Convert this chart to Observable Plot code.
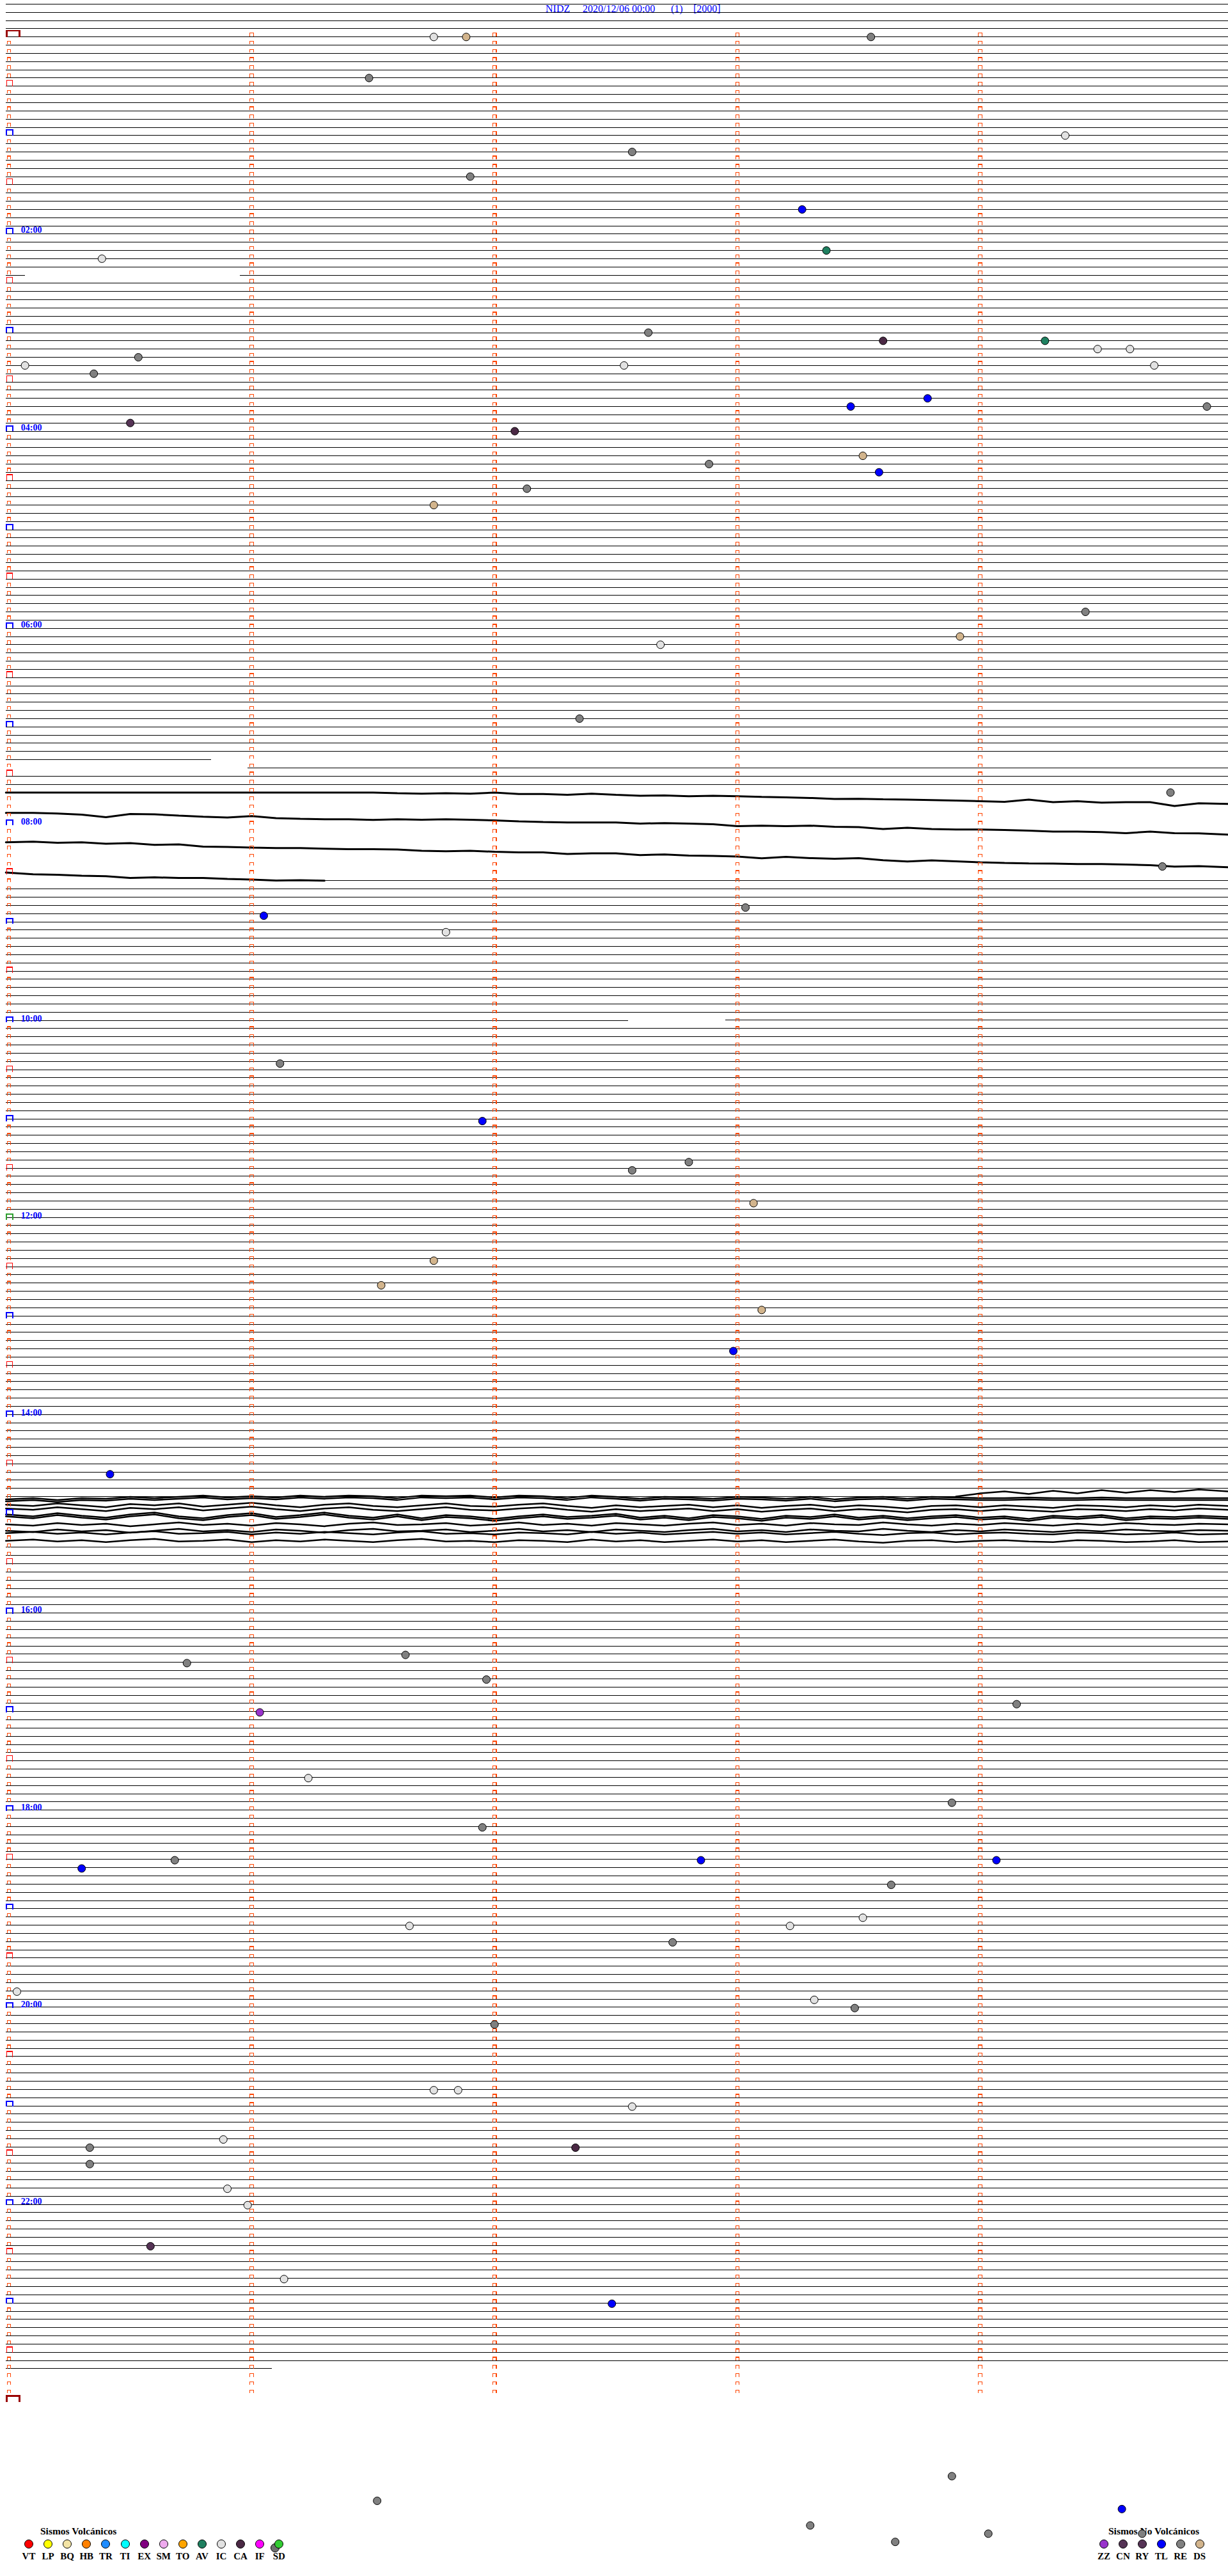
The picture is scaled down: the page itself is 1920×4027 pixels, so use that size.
<!DOCTYPE html>
<html><head><meta charset="utf-8">
<script src="https://cdn.jsdelivr.net/npm/d3@7"></script>
<script src="https://cdn.jsdelivr.net/npm/@observablehq/plot@0.6"></script>
<style>
body{margin:0;background:#fff;}
#wrap{position:relative;width:1920px;height:4027px;overflow:hidden;font-family:"Liberation Serif","Times New Roman",serif;}
#chart{position:absolute;left:0;top:0;z-index:2;}
#legend{position:absolute;left:0;top:0;width:1920px;height:4027px;z-index:1;}
.t{position:absolute;white-space:pre;line-height:1;}
.c{position:absolute;width:12px;height:12px;border:1px solid #000;border-radius:50%;}
</style></head><body>
<div id="wrap"><div id="legend"></div><div id="chart"></div></div>
<script>
// ---------------- DATA ----------------
const station = "NIDZ";
const startLabel = "2020/12/06 00:00";
const channelLabel = "(1)";
const gainLabel = "[2000]";
const hourLabels = ["02:00","04:00","06:00","08:00","10:00","12:00","14:00","16:00","18:00","20:00","22:00"];

// recorded data spans (start, end, DC offset in counts)
const recordSpans = [
  ["-00:20:00","02:25:04",0],
  ["02:25:57","07:20:50",0],
  ["07:25:59","07:40:00",0],
  ["08:36:18","10:02:33",-3.3],
  ["10:02:57","14:53:54",-3.5],
  ["15:20:00","23:41:05",-1.2]
];

// large-amplitude waveform samples (one sample every 6 s), counts
const waveStarts = ["07:40:00","07:45:00","07:50:00","07:55:00","14:53:54","14:55:00","15:00:00","15:05:00","15:10:00","15:15:00"];
const waveDC =     [0,0,0,0,-3.6,-3.6,-3.6,-3.6,-3.6,-3.6];
const waveEnvelope=[0,0,0,0,0,1.5,3,1.5,5,6];
const wave0740 = [0,0,0,0,0,0,0,0,0,0,0,0,0,0,0,0,1.0,1.7,1.0,1.7,0,2.3,2.3,3.4,1.7,3.4,5,4.4,5.7,5,5.7,6.7,7.4,8.4,10,9.7,10.4,11,11.7,12.4,13.4,14.4,11,15,13.4,15.7,15,15,21,16.7,17.7];
const wave0745 = [18.9,18.9,19.9,21.6,25.6,20.6,21.2,23.2,24.9,26.2,23.9,27.2,28.2,28.9,28.9,29.9,28.9,29.6,28.9,29.6,30.6,32.2,33.2,33.9,33.9,33.9,35.6,34.9,35.6,36.6,39.6,38.9,39.6,38.9,40.6,41.2,44.2,42.2,44.2,44.9,44.9,45.6,46.6,48.2,48.2,48.9,50.6,48.2,50.6,50.9,52.9];
const wave0750 = [52.1,51.1,52.8,52.1,54.4,53.4,56.1,55.4,58.8,59.4,60.4,61.1,61.1,62.1,62.8,62.8,63.4,65.4,66.1,65.4,66.8,67.8,67.8,70.4,69.4,69.4,72.1,71.1,72.8,73.4,74.4,77.1,74.8,76.8,77.8,76.8,80.1,82.1,80.4,81.8,83.4,84.4,85.1,85.4,86.1,86.1,86.8,87.8,90.1,89.4,91.1];
const wave0755 = [86.6,89.3,90,91.6,92.3,95,94,95,95,96.6,97.6,99,98.6,99.3];
const wave1453 = [0,-5,-8,-4,-9,-5,-10,-6,-10,-7,-11,-8];
const wave1455 = [-7,-9,-6,-9,-8,-11,-9,-11,-13,-10,-12,-10,-13,-11,-13,-12,-9,-13,-12,-13,-10,-13,-12,-9,-13,-11,-8,-11,-10,-8,-11,-10,-8,-11,-7,-10,-11,-8,-11,-10,-9,-9,-10,-9,-9,-10,-9,-9,-9,-9,-9];
const wave1500 = [-10,-8,-12,-9,-6,-11,-9,-12,-7,-10,-13,-9,-6,-10,-12,-8,-6,-9,-12,-8,-7,-10,-12,-8,-5,-9,-6,-8,-10,-6,-9,-5,-8,-10,-6,-9,-7,-4,-8,-9,-6,-9,-7,-5,-9,-8,-6,-9,-7,-10,-8];
const wave1505 = [-9,-6,-11,-7,-4,-9,-12,-6,-3,-8,-11,-5,-8,-12,-7,-4,-9,-3,-8,-6,-2,-6,-9,-5,-7,-10,-4,-7,-3,-8,-6,-2,-7,-5,-9,-4,-7,-3,-6,-8,-4,-6,-2,-7,-5,-8,-3,-6,-5,-7,-5];
const wave1510 = [-3,-1,-5,-2,-4,0,-3,-6,-2,-4,-1,-5,-3,0,-4,-6,-2,-3,-5,-1,-3,-6,-2,-4,-1,-5,-3,-1,-4,-6,-2,-4,-1,-5,-3,-2,-6,-3,-1,-4,-2,-5,-3,-1,-4,-2,-5,-3,-2,-4,-3];
const wave1515 = [-1,-3,0,-2,1,-2,-4,0,-1,-3,1,-2,0,-3,-1,1,-2,-4,0,-1,1,-2,-1,1,-3,0,-2,1,-1,-3,0,-2,1,-1,-3,0,2,-1,-2,1,-1,-2,0,1,-2,-1,1,0,-2,1,0];
const waveValues = [wave0740,wave0745,wave0750,wave0755,wave1453,wave1455,wave1500,wave1505,wave1510,wave1515];

// classified events
const eventTimes = ["00:01:45","00:01:53","00:03:33","00:26:29","01:04:21","01:12:34","01:26:54","01:48:16","02:13:22","02:15:23",
 "03:02:38","03:08:36","03:09:16","03:14:29","03:14:37","03:15:32","03:20:04","03:22:32","03:24:43","03:25:21",
 "03:43:47","03:48:28","03:49:56","03:55:30","04:02:05","04:18:31","04:22:53","04:28:35","04:37:08","04:46:45",
 "05:54:26","06:08:55","06:12:41","06:57:21","07:44:47","08:29:45","08:53:02","08:56:03","09:06:48","10:26:07",
 "11:01:57","11:27:48","11:32:34","11:53:04","12:26:45","12:41:32","12:58:06","13:22:59","14:35:25","16:26:38",
 "16:30:44","16:41:58","16:59:09","17:01:02","17:41:14","17:58:53","18:11:57","18:32:51","18:34:04","18:30:41",
 "18:35:18","18:48:38","19:08:31","19:11:39","19:13:13","19:22:44","19:50:02","19:58:19","20:03:29","20:12:00",
 "20:51:45","20:51:51","21:02:34","21:20:53","21:25:20","21:27:20","21:35:20","21:50:54","22:00:59","22:25:35",
 "22:46:08","23:02:29","24:48:53","25:01:31","25:09:35","25:18:18","25:24:02","25:24:40","25:28:39"];
const eventTypes = ["IC","DS","RE","RE","IC","RE","RE","TL","AV","IC",
 "RE","CA","AV","IC","IC","RE","IC","IC","IC","RE",
 "TL","TL","RE","CN","CA","DS","RE","TL","RE","DS",
 "RE","DS","IC","RE","RE","RE","RE","TL","IC","RE",
 "TL","RE","RE","DS","DS","DS","DS","TL","TL","RE",
 "RE","RE","RE","ZZ","IC","RE","RE","TL","TL","RE",
 "TL","RE","IC","IC","IC","RE","IC","IC","RE","RE",
 "IC","IC","IC","IC","RE","CA","RE","IC","IC","CN",
 "IC","TL","RE","RE","TL","RE","RE","RE","RE"];

const volcanicCodes  = ["VT","LP","BQ","HB","TR","TI","EX","SM","TO","AV","IC","CA","IF","SD"];
const volcanicColors = ["#ff0000","#ffff00","#f3e4a6","#ff8000","#1e8cff","#00ffff","#800080","#eeaaee","#ffa500","#1f8060","#e2e2e2","#4a2844","#ff00ff","#33cc33"];
const nonVolcanicCodes  = ["ZZ","CN","RY","TL","RE","DS"];
const nonVolcanicColors = ["#9933cc","#553355","#553355","#0000ff","#808080","#d2b48c"];

// ---------------- BUILD ----------------
const ROW = 300;            // seconds per helicorder line
const GAIN = 12.839;        // counts per line spacing
const toSec = s => { const neg = s.startsWith("-"); const [h,m,x] = s.replace("-","").split(":").map(Number); const v = h*3600+m*60+x; return neg ? -v : v; };
const xEnd = 5.022, xStart = -0.012;

const segs = [];
recordSpans.forEach(([a,b,dc]) => {
  const s = toSec(a), e = toSec(b);
  for (let r = Math.floor(s/ROW); r*ROW < e; r++) {
    const rs = r*ROW, t0 = Math.max(s, rs), t1 = Math.min(e, rs+ROW);
    if (t1 <= t0) continue;
    segs.push({row: r, x1: t0 === rs ? xStart : (t0-rs)/60, x2: t1 === rs+ROW ? xEnd : (t1-rs)/60, dc});
  }
});

const wavePts = [];
waveStarts.forEach((st, k) => {
  const s = toSec(st), row = Math.floor(s/ROW), m0 = (s - row*ROW)/60;
  const vals = waveValues[k], env = waveEnvelope[k];
  const sides = env > 0 ? [-1, 1] : [0];
  sides.forEach(sd => {
    vals.forEach((v, i) => {
      let m = m0 + i*0.1;
      if (i === 0 && m0 === 0) m = xStart;
      if (Math.abs(m - 5) < 1e-6) m = xEnd;
      wavePts.push({id: k + "_" + sd, grp: k < 4 ? "a" : "b", x: m, y: row + (waveDC[k] + v + sd*env)/GAIN});
    });
  });
});

const marks0 = [];
for (let r = 0; r <= 288; r++) {
  for (let m = 0; m <= 4; m++) {
    if (r === 288 && m > 0) continue;
    let kind = "small";
    if (m === 0) {
      if (r % 144 === 0 && r !== 144) kind = "darkred";
      else if (r === 144) kind = "green";
      else if (r % 12 === 0) kind = "blue";
      else if (r % 6 === 0) kind = "red";
    }
    marks0.push({row: r, x: m, kind});
  }
}
const openRect = (l, r, t, b) => ({draw(ctx){ ctx.moveTo(l,b); ctx.lineTo(l,t); ctx.lineTo(r,t); ctx.lineTo(r,b); }});
const markerStyle = {
  small:   {sym: openRect(-2.7,2.7,-6.3,-1.3), stroke:"#ff4500", sw:1.2},
  red:     {sym: openRect(-3.1,5.5,-9.3,0),   stroke:"#ff0000", sw:1.4},
  blue:    {sym: openRect(-3.4,6.6,-8.5,0),   stroke:"#0000ff", sw:2},
  green:   {sym: openRect(-3.4,6.6,-8.5,0),   stroke:"#2ea02e", sw:2},
  darkred: {sym: openRect(-3.4,16.8,-10,0),   stroke:"#990000", sw:2.4}
};

const events = eventTimes.map((t, i) => { const s = toSec(t); const row = Math.floor(s/ROW); return {row, x: (s - row*ROW)/60, type: eventTypes[i]}; });

const markerMarks = Object.entries(markerStyle).map(([k, st]) =>
  Plot.dot(marks0.filter(d => d.kind === k), {x: "x", y: "row", symbol: st.sym, stroke: st.stroke, fill: "none", strokeWidth: st.sw, shapeRendering: "crispEdges"}));

const chart = Plot.plot({
  width: 1920, height: 4027, margin: 0,
  style: {background: "transparent", overflow: "visible"},
  x: {domain: [0, 5], range: [13.3, 1911.8], axis: null},
  y: {domain: [0, 288], range: [57.3, 57.3 + 288*12.839], axis: null},
  color: {domain: volcanicCodes.concat(nonVolcanicCodes.filter(c => !volcanicCodes.includes(c))),
          range: volcanicColors.concat(nonVolcanicColors.filter((c, i) => !volcanicCodes.includes(nonVolcanicCodes[i])))},
  marks: [
    Plot.link(segs, {x1: "x1", x2: "x2", y1: d => d.row + d.dc/GAIN, y2: d => d.row + d.dc/GAIN, stroke: "#000", strokeWidth: 1, shapeRendering: "crispEdges"}),
    Plot.line(wavePts.filter(d => d.grp === "a"), {x: "x", y: "y", z: "id", stroke: "#000", strokeWidth: 3, curve: "linear", strokeLinejoin: "miter"}),
    Plot.line(wavePts.filter(d => d.grp === "b"), {x: "x", y: "y", z: "id", stroke: "#000", strokeWidth: 2.5, curve: "linear", strokeLinejoin: "miter"}),
    ...markerMarks,
    Plot.text(hourLabels, {x: d => (toSec(d+":00") % ROW)/60, y: d => toSec(d+":00")/ROW, text: d => d, textAnchor: "start", lineAnchor: "bottom", dx: 19, dy: -1.5, fill: "#0000ff", fontWeight: "bold", fontSize: 14, fontFamily: "Liberation Serif"}),
    Plot.dot(events, {x: "x", y: "row", r: 6, fill: "type", stroke: "#000", strokeWidth: 1})
  ]
});
document.getElementById("chart").appendChild(chart);

// ---------------- TITLE & LEGEND (HTML) ----------------
const L = document.getElementById("legend");
function text(str, left, baseline, size, opts = {}) {
  const d = document.createElement("div");
  d.className = "t"; d.textContent = str;
  d.style.fontSize = size + "px";
  d.style.top = (baseline - 0.8375*size) + "px";
  d.style.left = left + "px";
  if (opts.center) d.style.transform = "translateX(-50%)";
  d.style.color = opts.color || "#000";
  d.style.fontWeight = opts.bold ? "bold" : "normal";
  L.appendChild(d);
}
function circ(cx, cy, color) {
  const d = document.createElement("div");
  d.className = "c"; d.style.left = (cx - 7) + "px"; d.style.top = (cy - 7) + "px"; d.style.background = color;
  L.appendChild(d);
}
text(station, 853, 19.5, 16, {color: "#0000ff"});
text(startLabel, 911, 19.5, 16, {color: "#0000ff"});
text(channelLabel, 1049, 19.5, 16, {color: "#0000ff"});
text(gainLabel, 1084, 19.5, 16, {color: "#0000ff"});

text("Sismos Volcánicos", 63, 3962, 15.5, {bold: true});
volcanicCodes.forEach((c, i) => {
  const cx = 45 + 30.1*i;
  if (c === "SD") circ(cx - 6, 3983, "#707070");
  circ(cx, 3977, volcanicColors[i]);
  text(c, cx, 4002, 15, {center: true, bold: true});
});
text("Sismos No Volcánicos", 1733, 3962, 15.5, {bold: true});
nonVolcanicCodes.forEach((c, i) => {
  const cx = 1726 + 29.9*i;
  circ(cx, 3977, nonVolcanicColors[i]);
  text(c, cx, 4002, 15, {center: true, bold: true});
});
</script></body></html>
